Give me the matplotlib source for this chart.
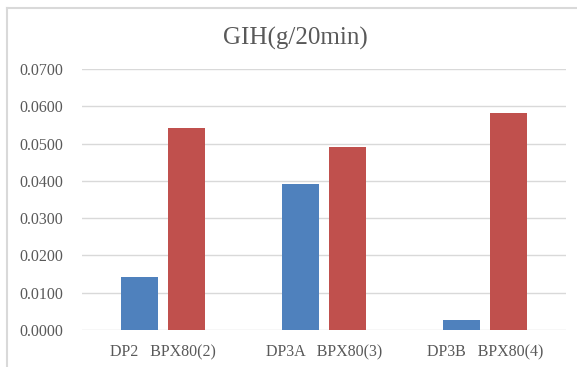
import matplotlib
matplotlib.use("Agg")
import matplotlib.pyplot as plt
from matplotlib.lines import Line2D
import numpy as np

# data
groups = ["DP2   BPX80(2)", "DP3A   BPX80(3)", "DP3B   BPX80(4)"]
dp_values = [0.0143, 0.0391, 0.0028]
bpx_values = [0.0542, 0.0491, 0.0582]
y_ticks = [0.0, 0.01, 0.02, 0.03, 0.04, 0.05, 0.06, 0.07]

blue = "#4F81BD"
red = "#C0504D"
text_gray = "#595959"
grid_gray = "#D9D9D9"

plt.rcParams['font.family'] = ['Liberation Serif', 'DejaVu Serif']

fig = plt.figure(figsize=(5.77, 3.67), dpi=100)
ax = fig.add_axes([82 / 577, 1 - 330 / 367, (566 - 82) / 577, (330 - 69) / 367])

x = np.arange(len(groups))
w = 0.23
off = 0.146
ax.bar(x - off, dp_values, width=w, color=blue, zorder=3)
ax.bar(x + off, bpx_values, width=w, color=red, zorder=3)

ax.set_xlim(-0.5, len(groups) - 0.5)
ax.set_ylim(0, 0.07)
ax.set_yticks(y_ticks)
ax.set_yticklabels([f"{v:.4f}" for v in y_ticks])
ax.set_xticks(x)
ax.set_xticklabels(groups)
ax.tick_params(axis="both", length=0, colors=text_gray, labelsize=11.5)
ax.tick_params(axis="y", pad=13.5)
ax.tick_params(axis="x", pad=10.5)
ax.grid(axis="y", color=grid_gray, linewidth=1, zorder=0)
for s in ax.spines.values():
    s.set_visible(False)

fig.text(295 / 577, 1 - 38 / 367, "GIH(g/20min)", ha="center", va="center",
         fontsize=18, color=text_gray)

# chart area border (only top and left visible)
fig.add_artist(Line2D([6.5 / 577, 6.5 / 577], [0, 1 - 8 / 367], transform=fig.transFigure,
                      color=grid_gray, linewidth=1.5))
fig.add_artist(Line2D([6.5 / 577, 1], [1 - 8 / 367, 1 - 8 / 367], transform=fig.transFigure,
                      color=grid_gray, linewidth=1.5))

fig.savefig("out.png", dpi=100, facecolor="white")
